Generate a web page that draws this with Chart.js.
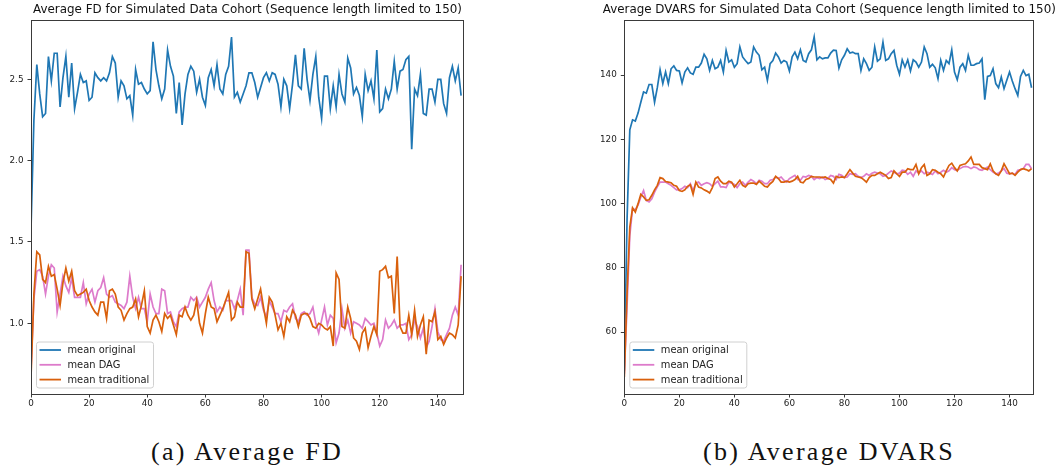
<!DOCTYPE html>
<html>
<head>
<meta charset="utf-8">
<script src="https://cdn.jsdelivr.net/npm/chart.js@4.4.1/dist/chart.umd.min.js"></script>
<style>
	html, body {
		margin: 0;
		padding: 0;
		background: #ffffff;
	}
	#page {
		position: relative;
		width: 1060px;
		height: 473px;
		overflow: hidden;
	}
	canvas {
		position: absolute;
		top: 0;
	}
	#fdCanvas {
		left: 0;
	}
	#dvarsCanvas {
		left: 590px;
	}
	.caption {
		position: absolute;
		top: 439px;
		width: 400px;
		text-align: center;
		font-family: "Liberation Serif", serif;
		font-size: 26px;
		line-height: 26px;
		letter-spacing: 2.3px;
		color: #111111;
		white-space: nowrap;
	}
</style>
</head>
<body>
<div id="page">
	<canvas id="fdCanvas" width="500" height="420"></canvas>
	<canvas id="dvarsCanvas" width="470" height="420"></canvas>
	<div class="caption" style="left: 47px;">(a) Average FD</div>
	<div class="caption" style="left: 629px;">(b) Average DVARS</div>
</div>
<script>
// Mean framewise displacement per frame
const fdOriginal = [
	1.58, 2.25, 2.59, 2.41, 2.27, 2.29, 2.64, 2.49, 2.66, 2.66,
	2.33, 2.51, 2.64, 2.39, 2.60, 2.32, 2.42, 2.53, 2.48, 2.49,
	2.37, 2.39, 2.54, 2.51, 2.49, 2.51, 2.49, 2.54, 2.64, 2.60,
	2.39, 2.49, 2.46, 2.38, 2.40, 2.28, 2.56, 2.47, 2.48, 2.44,
	2.41, 2.43, 2.73, 2.56, 2.46, 2.38, 2.44, 2.68, 2.58, 2.52,
	2.29, 2.48, 2.22, 2.41, 2.53, 2.58, 2.55, 2.42, 2.50, 2.39,
	2.34, 2.51, 2.56, 2.46, 2.59, 2.44, 2.41, 2.53, 2.58, 2.76,
	2.39, 2.42, 2.36, 2.41, 2.46, 2.54, 2.54, 2.48, 2.39, 2.45,
	2.51, 2.54, 2.49, 2.54, 2.53, 2.47, 2.33, 2.50, 2.46, 2.32,
	2.47, 2.65, 2.46, 2.44, 2.69, 2.50, 2.37, 2.53, 2.64, 2.39,
	2.26, 2.52, 2.52, 2.32, 2.46, 2.33, 2.53, 2.41, 2.36, 2.63,
	2.57, 2.41, 2.45, 2.40, 2.27, 2.53, 2.43, 2.49, 2.38, 2.68,
	2.30, 2.32, 2.44, 2.38, 2.44, 2.61, 2.44, 2.55, 2.56, 2.62,
	2.64, 2.07, 2.44, 2.40, 2.53, 2.29, 2.28, 2.44, 2.44, 2.36,
	2.50, 2.50, 2.35, 2.29, 2.51, 2.58, 2.49, 2.57, 2.40
];
const fdDag = [
	0.72, 1.15, 1.32, 1.33, 1.29, 1.18, 1.29, 1.36, 1.34, 1.07,
	1.18, 1.29, 1.23, 1.19, 1.28, 1.16, 1.16, 1.16, 1.25, 1.12,
	1.18, 1.21, 1.13, 1.20, 1.22, 1.28, 1.18, 1.16, 1.17, 1.13,
	1.12, 1.11, 1.09, 1.13, 1.29, 1.16, 1.09, 1.16, 1.09, 1.09,
	1.01, 1.18, 1.10, 1.06, 1.06, 1.21, 1.20, 1.06, 1.07, 1.01,
	0.98, 1.07, 1.09, 1.10, 1.10, 1.16, 1.14, 1.16, 1.10, 1.13,
	1.16, 1.21, 1.25, 1.14, 1.07, 1.10, 1.08, 1.14, 1.14, 1.14,
	1.09, 1.14, 1.21, 1.05, 1.45, 1.45, 1.16, 1.12, 1.11, 1.16,
	1.08, 1.04, 1.14, 1.10, 1.06, 1.06, 1.01, 1.08, 1.07, 1.10,
	1.12, 1.03, 1.01, 1.06, 1.07, 1.05, 1.06, 1.10, 1.00, 0.94,
	1.02, 1.10, 0.99, 1.05, 1.03, 0.88, 0.94, 1.09, 0.97, 1.02,
	0.94, 1.01, 1.00, 0.99, 0.97, 1.03, 1.01, 0.99, 1.00, 0.94,
	0.86, 0.90, 1.02, 0.97, 0.99, 1.02, 0.97, 0.99, 0.99, 1.00,
	0.90, 0.93, 1.02, 0.98, 0.91, 0.97, 0.85, 0.89, 0.98, 1.09,
	0.95, 0.90, 0.89, 0.93, 0.97, 1.05, 1.10, 1.05, 1.36
];
const fdTraditional = [
	0.67, 1.18, 1.44, 1.42, 1.27, 1.25, 1.35, 1.29, 1.30, 1.21,
	1.11, 1.25, 1.34, 1.26, 1.32, 1.20, 1.17, 1.18, 1.19, 1.21,
	1.14, 1.10, 1.07, 1.05, 1.13, 1.13, 1.03, 1.20, 1.21, 1.18,
	1.10, 1.08, 1.02, 1.06, 1.09, 1.10, 1.15, 1.04, 1.11, 1.20,
	0.98, 0.94, 1.02, 1.05, 1.01, 0.95, 1.06, 1.03, 1.05, 0.99,
	0.93, 1.05, 1.04, 1.10, 1.05, 1.02, 1.05, 1.14, 1.00, 0.94,
	1.06, 1.16, 1.10, 1.09, 1.01, 1.05, 1.09, 1.14, 1.19, 1.02,
	1.04, 1.13, 1.10, 1.10, 1.44, 1.43, 1.15, 1.09, 1.15, 1.21,
	1.10, 1.00, 1.16, 1.13, 1.05, 0.96, 1.00, 0.92, 1.04, 1.01,
	1.08, 1.05, 0.98, 1.05, 1.06, 1.06, 1.03, 0.98, 0.97, 1.00,
	0.99, 0.97, 0.96, 0.98, 0.86, 1.31, 1.27, 0.98, 0.97, 1.10,
	1.03, 0.91, 0.89, 0.84, 0.94, 0.97, 0.85, 0.92, 0.98, 0.93,
	1.32, 1.33, 1.35, 1.28, 1.29, 1.06, 1.41, 0.98, 0.94, 0.94,
	1.05, 0.93, 1.08, 0.92, 0.99, 1.04, 0.81, 1.02, 1.01, 1.07,
	0.90, 0.92, 0.87, 0.91, 0.94, 0.93, 0.91, 0.99, 1.29
];

// Mean DVARS per frame
const dvarsOriginal = [
	48.0, 95.0, 123.0, 126.1, 125.7, 128.2, 131.6, 134.8, 134.4, 137.1,
	137.1, 131.6, 136.1, 141.7, 137.4, 141.0, 137.4, 142.0, 142.9, 141.5,
	141.3, 137.6, 141.0, 142.3, 140.7, 140.3, 142.5, 142.5, 143.8, 146.5,
	145.1, 141.5, 144.6, 142.0, 142.5, 144.6, 141.0, 147.7, 144.1, 144.8,
	142.5, 143.6, 148.8, 145.7, 144.6, 143.6, 144.1, 148.8, 147.2, 146.2,
	141.7, 142.5, 138.4, 143.6, 144.6, 146.9, 145.7, 143.8, 144.6, 144.1,
	141.3, 145.7, 147.2, 145.1, 147.9, 144.6, 144.1, 146.7, 147.9, 151.9,
	144.8, 145.7, 145.1, 145.4, 145.4, 146.9, 147.8, 147.7, 142.2, 144.8,
	146.2, 148.2, 146.9, 147.2, 146.7, 146.7, 141.5, 145.1, 143.6, 141.5,
	142.5, 148.8, 144.4, 145.1, 150.3, 144.6, 145.1, 146.7, 147.7, 143.1,
	140.3, 144.8, 142.5, 144.8, 141.3, 144.8, 144.1, 142.5, 144.1, 148.8,
	146.7, 142.5, 143.4, 142.3, 138.9, 144.6, 141.5, 144.6, 143.6, 147.9,
	141.0, 138.6, 142.5, 143.6, 141.5, 146.2, 143.1, 143.1, 143.6, 143.8,
	145.1, 132.4, 139.6, 139.9, 142.0, 137.4, 136.1, 139.4, 135.8, 138.4,
	141.0, 138.2, 135.8, 133.7, 139.6, 141.5, 139.9, 140.3, 136.1
];
const dvarsDag = [
	47.0, 68.0, 90.0, 98.4, 98.1, 99.5, 102.1, 104.1, 101.0, 100.5,
	101.5, 103.6, 105.2, 106.7, 106.7, 106.7, 106.2, 105.7, 105.0, 104.3,
	104.3, 104.7, 105.4, 105.0, 106.2, 104.1, 106.4, 106.7, 105.7, 106.2,
	106.5, 106.2, 105.4, 106.2, 107.0, 105.2, 105.2, 105.0, 106.7, 106.4,
	106.0, 105.0, 106.2, 106.7, 105.7, 106.7, 107.5, 107.0, 106.2, 107.3,
	107.0, 106.2, 106.2, 107.3, 107.5, 108.3, 107.8, 108.3, 107.3, 106.7,
	107.8, 108.3, 108.8, 107.5, 107.3, 108.5, 108.3, 108.8, 108.5, 107.5,
	108.1, 107.8, 108.3, 107.5, 107.8, 108.8, 108.5, 107.5, 109.1, 108.8,
	108.1, 108.3, 109.3, 109.1, 109.3, 108.5, 108.1, 108.5, 109.3, 108.8,
	109.5, 109.8, 109.5, 109.3, 108.5, 108.8, 109.5, 110.2, 109.8, 109.3,
	109.5, 110.4, 110.2, 109.1, 109.8, 108.5, 110.2, 109.5, 110.2, 109.3,
	109.8, 109.5, 109.1, 110.2, 109.3, 109.8, 110.4, 109.8, 110.2, 111.2,
	110.6, 110.4, 110.9, 111.4, 111.6, 111.4, 110.9, 111.4, 111.2, 110.6,
	110.4, 110.9, 111.4, 110.6, 109.8, 109.3, 109.5, 110.2, 110.9, 109.5,
	109.3, 109.5, 109.1, 110.4, 110.6, 110.9, 112.2, 112.2, 110.9
];
const dvarsTraditional = [
	46.0, 72.0, 92.7, 98.7, 97.4, 100.0, 102.9, 102.1, 101.0, 101.2,
	102.6, 104.3, 105.7, 108.1, 107.8, 106.9, 106.7, 106.5, 105.7, 105.4,
	104.1, 103.8, 104.3, 105.4, 105.9, 102.9, 106.7, 105.2, 104.9, 104.3,
	103.9, 103.3, 105.0, 107.8, 108.3, 107.0, 106.2, 106.2, 107.0, 106.7,
	105.2, 106.2, 107.3, 105.7, 105.2, 106.2, 106.4, 106.4, 106.0, 107.0,
	106.2, 105.4, 105.2, 106.2, 106.9, 108.5, 107.8, 106.7, 106.7, 107.0,
	106.7, 107.0, 107.5, 108.5, 106.7, 106.5, 107.5, 107.8, 108.5, 108.3,
	108.3, 108.3, 108.1, 108.3, 107.8, 107.5, 106.4, 108.5, 108.1, 108.3,
	108.1, 109.3, 110.6, 109.5, 108.5, 108.3, 108.1, 107.5, 106.7, 108.1,
	108.8, 108.8, 109.3, 109.8, 109.3, 108.8, 107.8, 108.1, 110.2, 109.3,
	108.5, 109.8, 109.8, 110.9, 110.6, 110.6, 112.2, 109.3, 111.2, 112.2,
	108.8, 109.3, 110.6, 110.4, 109.8, 109.3, 108.3, 110.2, 111.9, 112.6,
	111.2, 110.2, 111.9, 112.2, 112.4, 113.3, 114.5, 112.2, 112.2, 112.2,
	111.2, 110.9, 110.6, 112.4, 110.2, 109.3, 108.8, 110.2, 112.4, 110.9,
	109.3, 109.5, 108.8, 109.8, 110.6, 110.9, 110.6, 110.2, 110.9
];

const seriesLabels = ["mean original", "mean DAG", "mean traditional"];
const seriesColors = ["#1f77b4", "#dd7bcb", "#d9600c"];
const xTicks = [0, 20, 40, 60, 80, 100, 120, 140];
const fdTicks = [1.0, 1.5, 2.0, 2.5];
const dvarsTicks = [60, 80, 100, 120, 140];
const lastFrame = 149;

const fontFamily = "'DejaVu Sans', sans-serif";
const textColor = "#222222";
const frameColor = "#3a3a3a";

function toPoints(values) {
	return values.map((v, i) => ({ x: i, y: v }));
}

// y range padded by 5% of the data span on both sides
function paddedRange(seriesList) {
	const all = seriesList.flat();
	const lo = Math.min(...all);
	const hi = Math.max(...all);
	const pad = (hi - lo) * 0.05;
	return { min: lo - pad, max: hi + pad };
}

// frame around the plot area, title over it and a boxed legend in the lower left
const framePlugin = {
	id: "frameAndLegend",
	afterDraw(chart, args, opts) {
		const ctx = chart.ctx;
		const area = chart.chartArea;
		ctx.save();
		ctx.strokeStyle = frameColor;
		ctx.lineWidth = 1;
		ctx.strokeRect(Math.round(area.left) + 0.5, Math.round(area.top) + 0.5,
			Math.round(area.right - area.left) - 1, Math.round(area.bottom - area.top));

		ctx.fillStyle = "#111111";
		ctx.font = "11.9px " + fontFamily;
		ctx.textAlign = "center";
		ctx.textBaseline = "middle";
		ctx.fillText(opts.title, (area.left + area.right) / 2, 10);

		const boxLeft = area.left + 5;
		const boxTop = area.bottom - 52.5;
		ctx.beginPath();
		ctx.roundRect(boxLeft + 0.5, boxTop + 0.5, 117, 46, 2.5);
		ctx.fillStyle = "rgba(255,255,255,0.8)";
		ctx.fill();
		ctx.strokeStyle = "#d0d0d0";
		ctx.stroke();

		ctx.font = "9.9px " + fontFamily;
		ctx.textAlign = "left";
		chart.data.datasets.forEach((ds, i) => {
			const rowY = boxTop + 8.5 + i * 14.8;
			ctx.beginPath();
			ctx.moveTo(boxLeft + 3.5, rowY);
			ctx.lineTo(boxLeft + 25, rowY);
			ctx.strokeStyle = ds.borderColor;
			ctx.lineWidth = 1.8;
			ctx.stroke();
			ctx.fillStyle = textColor;
			ctx.fillText(ds.label, boxLeft + 31.5, rowY + 0.5);
		});
		ctx.restore();
	}
};

function makeChart(canvasId, title, seriesList, yTicks, yAxisWidth, rightPad, tickFormat) {
	const range = paddedRange(seriesList);
	const datasets = seriesList.map((values, i) => ({
		label: seriesLabels[i],
		data: toPoints(values),
		borderColor: seriesColors[i],
		borderWidth: 1.7,
		pointRadius: 0,
		tension: 0,
		order: 3 - i
	}));
	const tickStyle = {
		color: textColor,
		font: { family: fontFamily, size: 8.8 }
	};
	const gridStyle = {
		display: true,
		drawOnChartArea: false,
		drawTicks: true,
		tickLength: 3.5,
		tickWidth: 1,
		color: frameColor
	};
	const context = document.getElementById(canvasId).getContext("2d");
	return new Chart(context, {
		type: "line",
		data: { datasets: datasets },
		options: {
			responsive: false,
			animation: false,
			devicePixelRatio: 1,
			layout: {
				padding: { top: 20, right: rightPad, bottom: 0, left: 0 }
			},
			plugins: {
				legend: { display: false },
				title: { display: false },
				tooltip: { enabled: false },
				frameAndLegend: { title: title }
			},
			scales: {
				x: {
					type: "linear",
					min: 0,
					max: lastFrame,
					border: { display: false },
					grid: gridStyle,
					ticks: Object.assign({ padding: 1, maxRotation: 0 }, tickStyle),
					afterBuildTicks: scale => {
						scale.ticks = xTicks.map(v => ({ value: v }));
					},
					afterFit: scale => {
						scale.height = 26;
					}
				},
				y: {
					type: "linear",
					min: range.min,
					max: range.max,
					border: { display: false },
					grid: gridStyle,
					ticks: Object.assign({ padding: 4, callback: tickFormat }, tickStyle),
					afterBuildTicks: scale => {
						scale.ticks = yTicks.map(v => ({ value: v }));
					},
					afterFit: scale => {
						scale.width = yAxisWidth;
					}
				}
			}
		},
		plugins: [framePlugin]
	});
}

makeChart("fdCanvas",
	"Average FD for Simulated Data Cohort (Sequence length limited to 150)",
	[fdOriginal, fdDag, fdTraditional], fdTicks, 31, 36,
	v => v.toFixed(1));

makeChart("dvarsCanvas",
	"Average DVARS for Simulated Data Cohort (Sequence length limited to 150)",
	[dvarsOriginal, dvarsDag, dvarsTraditional], dvarsTicks, 34.3, 25.7,
	v => String(v));
</script>
</body>
</html>
